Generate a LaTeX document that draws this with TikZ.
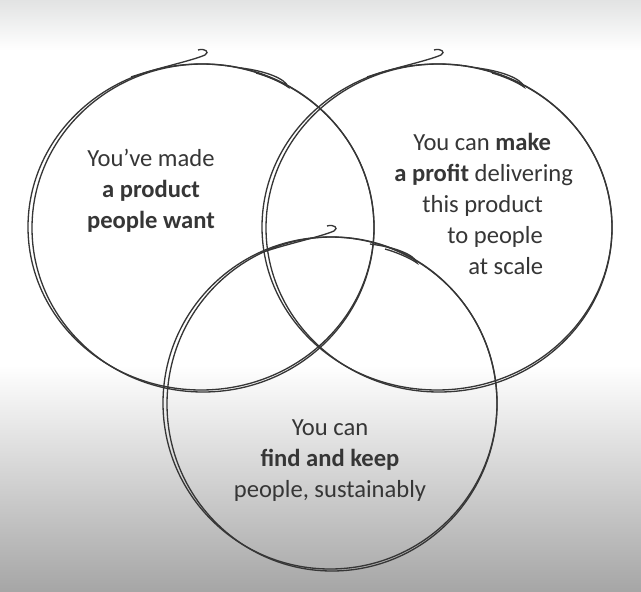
\documentclass[tikz,border=0pt]{standalone}
\usepackage{fontspec}
\setmainfont{Carlito}
\usepackage{xcolor}
\usepackage{tikz}
\usetikzlibrary{positioning}
\definecolor{ink}{HTML}{363636}
\definecolor{topgrey}{HTML}{E2E3E3}
\definecolor{botgrey}{HTML}{A6A6A6}
\tikzstyle{ring} = [draw=ink, line width=0.75pt]
\tikzstyle{blurb} = [text=ink, font=\fontsize{14}{17.6}\selectfont, align=center, inner sep=0pt]
\newcommand{\sketchring}[3]{%
  \begin{scope}[shift={#1}]
    \draw [ring] (0,0) ellipse [x radius=#2, y radius=#3];
    \draw [ring] (2,1) ellipse [x radius=#2-2, y radius=#3+1];
    \draw [ring] (-70,-150) .. controls (-40,-160) and (-10,-166) .. (4,-172) .. controls (9,-175) and (4,-179) .. (-3,-177);
    \draw [ring] (40,-159) .. controls (65,-156) and (85,-148) .. (87,-140) .. controls (80,-145) and (66,-151) .. (55,-154);
  \end{scope}}

\begin{document}
\begin{tikzpicture}[x=0.02cm, y=-0.02cm]
   \useasboundingbox (0,0) rectangle (641,591);
   \shade [top color=topgrey, bottom color=white] (0,0) rectangle (641,50);
   \fill [white] (0,50) rectangle (641,365);
   \shade [top color=white, bottom color=botgrey] (0,365) rectangle (641,591);
   % the three circles
   \sketchring{(201,227)}{173}{163}
   \sketchring{(437,227)}{175}{163}
   \sketchring{(330,403)}{167}{166}
   % texts
   \node (want) [blurb] at (151,191) {You’ve made\\\textbf{a product}\\\textbf{people want}};
   \node (profit) [blurb, align=left, anchor=west] at (394,204) {\hspace*{0.38cm}You can \textbf{make}\\\textbf{a profit} delivering\\\hspace*{0.56cm}this product\\\hspace*{1.06cm}to people\\\hspace*{1.48cm}at scale};
   \node (people) [blurb] at (330,461) {You can\\\textbf{find and keep}\\people, sustainably};
\end{tikzpicture}
\end{document}
